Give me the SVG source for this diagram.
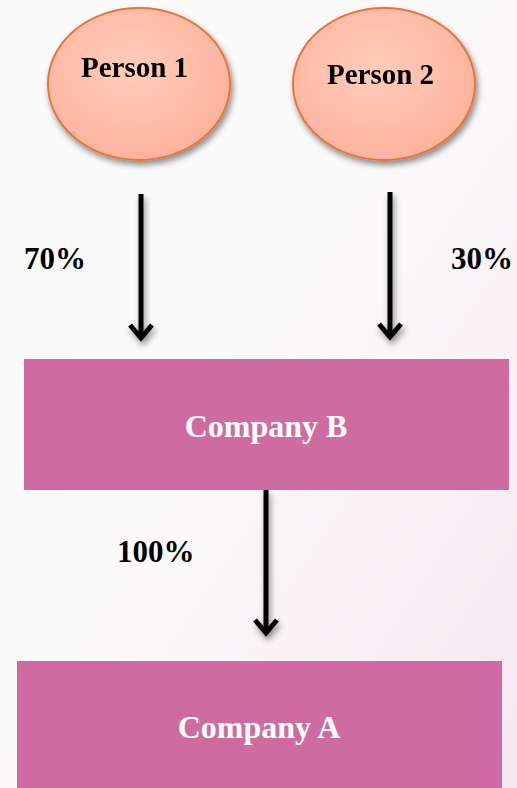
<svg xmlns="http://www.w3.org/2000/svg" width="517" height="788" viewBox="0 0 517 788">
  <defs>
    <linearGradient id="bg" x1="0" y1="0" x2="1" y2="1">
      <stop offset="0" stop-color="#fafafa"/>
      <stop offset="0.5" stop-color="#fbf9fa"/>
      <stop offset="1" stop-color="#f5e8ef"/>
    </linearGradient>
    <radialGradient id="oval" cx="0.45" cy="0.4" r="0.6">
      <stop offset="0" stop-color="#ffcdbb"/>
      <stop offset="1" stop-color="#fdb39d"/>
    </radialGradient>
    <filter id="shadow" x="-20%" y="-20%" width="140%" height="150%">
      <feGaussianBlur in="SourceAlpha" stdDeviation="3"/>
      <feOffset dx="2" dy="4" result="b"/>
      <feComponentTransfer><feFuncA type="linear" slope="0.45"/></feComponentTransfer>
      <feMerge><feMergeNode/><feMergeNode in="SourceGraphic"/></feMerge>
    </filter>
  </defs>
  <style>
    .person { fill: url(#oval); stroke: #e5753d; stroke-width: 2; }
    .company { fill: #ce6ca1; }
    .label { font-family: "Liberation Serif", "Times New Roman", serif; font-weight: bold; }
    .dark { fill: #000; font-size: 29px; }
    .light { fill: #fff; font-size: 32px; text-anchor: middle; }
    .pct { fill: #000; font-size: 31px; }
    .shaft { stroke: #000; stroke-width: 5; fill: none; }
    .tip { stroke: #000; stroke-width: 5; fill: none; stroke-linecap: butt; stroke-linejoin: miter; }
  </style>

  <rect x="0" y="0" width="517" height="788" fill="url(#bg)"/>

  <g id="person1" filter="url(#shadow)">
    <ellipse class="person" cx="139" cy="84" rx="91" ry="76"/>
    <text class="label dark" x="81" y="77">Person 1</text>
  </g>

  <g id="person2" filter="url(#shadow)">
    <ellipse class="person" cx="384" cy="84" rx="91" ry="76"/>
    <text class="label dark" x="327" y="84">Person 2</text>
  </g>

  <g id="companyB">
    <rect class="company" x="24" y="359" width="485" height="131"/>
    <text class="label light" x="266" y="437">Company B</text>
  </g>

  <g id="companyA">
    <rect class="company" x="17" y="661" width="485" height="127"/>
    <text class="label light" x="259" y="738">Company A</text>
  </g>

  <g id="connectors" filter="url(#shadow)">
    <line class="shaft" x1="141" y1="194" x2="141" y2="338"/>
    <polyline class="tip" points="130,325 141,338 152,325"/>
    <line class="shaft" x1="390" y1="192" x2="390" y2="337"/>
    <polyline class="tip" points="379,324 390,337 401,324"/>
    <line class="shaft" x1="266" y1="490" x2="266" y2="633"/>
    <polyline class="tip" points="255,620 266,633 277,620"/>
  </g>

  <g id="labels">
    <text class="label pct" x="24" y="269">70%</text>
    <text class="label pct" x="451" y="269">30%</text>
    <text class="label pct" x="117" y="562">100%</text>
  </g>
</svg>
